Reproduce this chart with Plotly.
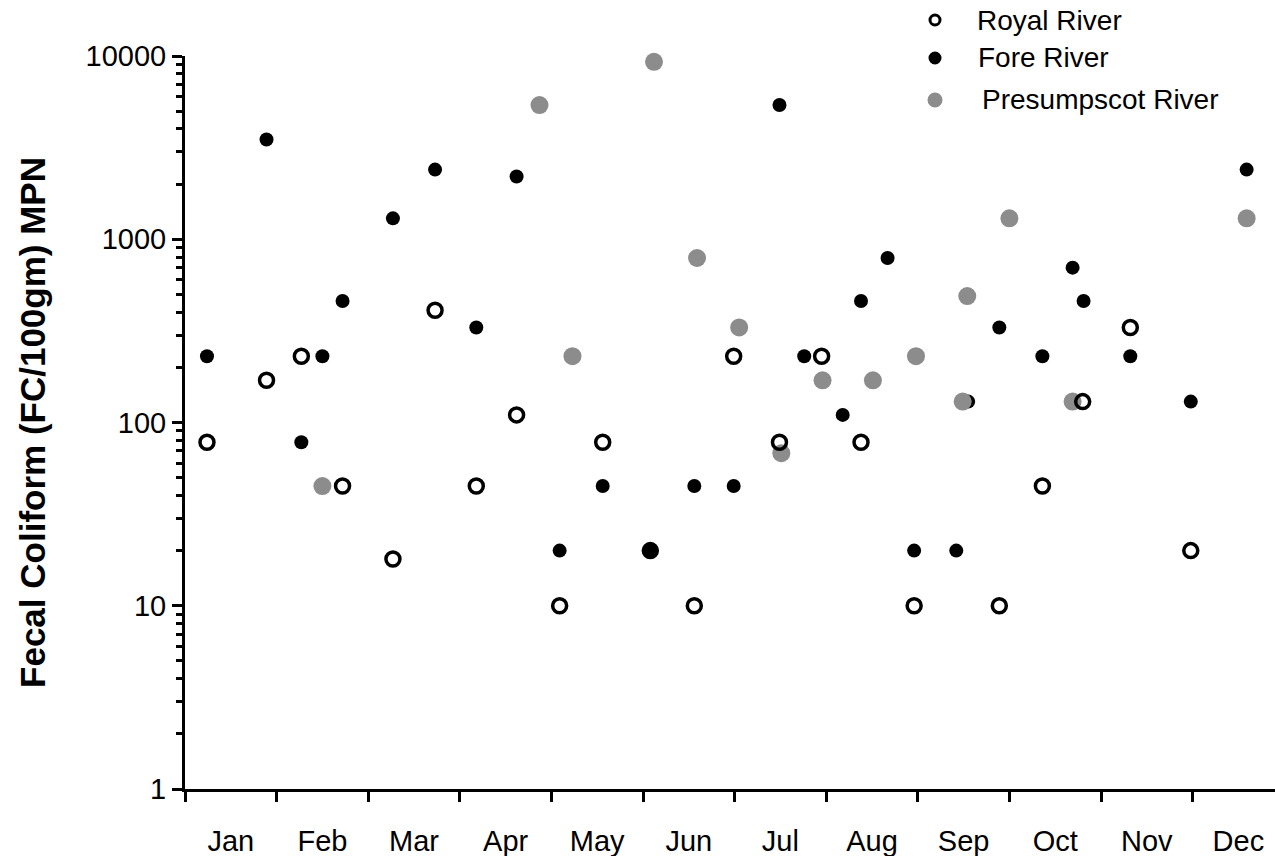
import plotly.graph_objects as go

# Month labels (x positions are in months from 1 Jan; each month spans one unit)
months = ["Jan", "Feb", "Mar", "Apr", "May", "Jun",
          "Jul", "Aug", "Sep", "Oct", "Nov", "Dec"]

# Royal River samples
royal_x = [0.24, 0.89, 1.27, 1.72, 2.27, 2.73, 3.18, 3.62, 4.09, 4.56, 5.08,
           5.56, 5.99, 6.49, 6.95, 7.38, 7.96, 8.89, 9.36, 9.80, 10.32, 10.98]
royal_y = [78, 170, 230, 45, 18, 410, 45, 110, 10, 78, 20,
           10, 230, 78, 230, 78, 10, 10, 45, 130, 330, 20]

# Fore River samples
fore_x = [0.24, 0.89, 1.27, 1.50, 1.72, 2.27, 2.73, 3.18, 3.62, 4.09, 4.56,
          5.08, 5.56, 5.99, 6.49, 6.76, 7.18, 7.38, 7.67, 7.96, 8.42, 8.55,
          8.89, 9.36, 9.69, 9.81, 10.32, 10.98, 11.59]
fore_y = [230, 3500, 78, 230, 460, 1300, 2400, 330, 2200, 20, 45,
          20, 45, 45, 5400, 230, 110, 460, 790, 20, 20, 130,
          330, 230, 700, 460, 230, 130, 2400]

# Presumpscot River samples
pres_x = [1.50, 3.87, 4.23, 5.12, 5.59, 6.05, 6.51, 6.96, 7.51, 7.98,
          8.49, 8.54, 9.00, 9.69, 11.59]
pres_y = [45, 5400, 230, 9300, 790, 330, 68, 170, 170, 230,
          130, 490, 1300, 130, 1300]

FONT = "Liberation Sans, Arial, Helvetica, sans-serif"
GREY = "#8c8c8c"

fig = go.Figure()

fig.add_trace(go.Scatter(
    x=fore_x, y=fore_y, mode="markers", name="Fore River",
    marker=dict(symbol="circle", size=14, color="black", line=dict(width=0)),
    cliponaxis=False, showlegend=False))

fig.add_trace(go.Scatter(
    x=pres_x, y=pres_y, mode="markers", name="Presumpscot River",
    marker=dict(symbol="circle", size=18, color=GREY, line=dict(width=0)),
    cliponaxis=False, showlegend=False))

fig.add_trace(go.Scatter(
    x=royal_x, y=royal_y, mode="markers", name="Royal River",
    marker=dict(symbol="circle-open", size=14, color="black",
                line=dict(width=3.5, color="black")),
    cliponaxis=False, showlegend=False))

# Legend drawn as symbols + text in the upper right
L, T, B = 185, 56, 789
W, H = 1275 - L, B - T


def px(x):
    return (x - L) / W


def py(y):
    return (B - y) / H


legend_items = [
    ("Royal River", 935, 20, 975, dict(line=dict(color="black", width=3), fillcolor="white"), 5),
    ("Fore River", 935, 58, 976, dict(line=dict(width=0), fillcolor="black"), 6.5),
    ("Presumpscot River", 935, 100, 980, dict(line=dict(width=0), fillcolor=GREY), 7.5),
]
shapes = []
annotations = []
for label, sx, sy, tx, style, r in legend_items:
    shapes.append(dict(
        type="circle", xref="paper", yref="paper",
        xsizemode="pixel", ysizemode="pixel",
        xanchor=px(sx), yanchor=py(sy),
        x0=-r, x1=r, y0=-r, y1=r, layer="above", **style))
    annotations.append(dict(
        text=label, xref="paper", yref="paper", x=px(tx), y=py(sy),
        xanchor="left", yanchor="middle", showarrow=False,
        font=dict(family=FONT, size=28, color="black")))

fig.update_layout(
    width=1275, height=856,
    margin=dict(l=L, r=0, t=T, b=856 - B),
    paper_bgcolor="white", plot_bgcolor="white",
    font=dict(family=FONT, size=29, color="black"),
    shapes=shapes, annotations=annotations,
    xaxis=dict(
        range=[0, W / 91.6],
        tickmode="array",
        tickvals=[i + 0.5 for i in range(12)],
        ticktext=months,
        ticks="", ticklabelstandoff=24,
        showline=True, linewidth=3, linecolor="black",
        showgrid=False, zeroline=False,
        minor=dict(tickmode="array", tickvals=list(range(12)),
                   ticks="outside", ticklen=10, tickwidth=3,
                   tickcolor="black", showgrid=False),
        tickfont=dict(family=FONT, size=29, color="black"),
    ),
    yaxis=dict(
        type="log", range=[0, 4],
        tickmode="array",
        tickvals=[1, 10, 100, 1000, 10000],
        ticktext=["1", "10", "100", "1000", "10000"],
        ticks="outside", ticklen=10, tickwidth=3, tickcolor="black",
        showline=True, linewidth=3, linecolor="black",
        showgrid=False, zeroline=False,
        minor=dict(tickmode="array",
                   tickvals=[m * 10 ** d for d in range(4) for m in range(2, 10)],
                   ticks="outside", ticklen=6, tickwidth=2.5,
                   tickcolor="black", showgrid=False),
        tickfont=dict(family=FONT, size=29, color="black"),
        title=dict(text="Fecal Coliform (FC/100gm) MPN", standoff=30,
                   font=dict(family=FONT, size=35, color="black", weight="bold")),
    ),
)

fig.write_html("out.html")
